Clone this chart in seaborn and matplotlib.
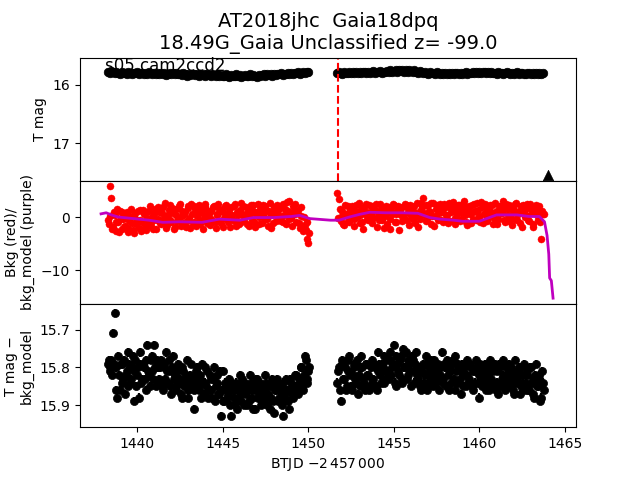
import numpy as np
import pandas as pd
import matplotlib
matplotlib.use("Agg")
import matplotlib.pyplot as plt
import seaborn as sns

# ---------------- data ----------------
# sample times (BTJD - 2457000), regular 0.1 d cadence in each orbit,
# with a second interleaved set offset by half a step
t_orbit1 = np.round(np.arange(1438.3, 1450.01, 0.1), 2)   # 118 samples
t_orbit2 = np.round(np.arange(1451.7, 1463.71, 0.1), 2)   # 121 samples
t_orbit1_b = np.round(t_orbit1 + 0.05, 3)
t_orbit2_b = np.round(t_orbit2 + 0.05, 3)

tmag_orbit1 = [
    15.77, 15.79, 15.76, 15.78, 15.80, 15.77, 15.79, 15.81, 15.78, 15.80,
    15.79, 15.81, 15.78, 15.80, 15.82, 15.79, 15.80, 15.78, 15.81, 15.79,
    15.80, 15.82, 15.79, 15.81, 15.78, 15.80, 15.82, 15.79, 15.81, 15.80,
    15.81, 15.79, 15.82, 15.80, 15.83, 15.81, 15.79, 15.82, 15.80, 15.81,
    15.80, 15.82, 15.81, 15.83, 15.80, 15.82, 15.84, 15.81, 15.83, 15.82,
    15.81, 15.83, 15.82, 15.84, 15.81, 15.83, 15.82, 15.85, 15.82, 15.83,
    15.84, 15.82, 15.83, 15.85, 15.82, 15.84, 15.83, 15.85, 15.84, 15.82,
    15.84, 15.86, 15.83, 15.85, 15.84, 15.82, 15.85, 15.83, 15.86, 15.84,
    15.83, 15.85, 15.84, 15.82, 15.85, 15.83, 15.84, 15.86, 15.83, 15.84,
    15.83, 15.82, 15.84, 15.82, 15.83, 15.81, 15.84, 15.82, 15.83, 15.81,
    15.82, 15.80, 15.83, 15.81, 15.82, 15.80, 15.81, 15.79, 15.82, 15.80,
    15.80, 15.78, 15.81, 15.79, 15.78, 15.80, 15.77, 15.78]
tmag_orbit2 = [
    15.80, 15.78, 15.79, 15.81, 15.78, 15.80, 15.79, 15.77, 15.80, 15.78,
    15.79, 15.77, 15.80, 15.78, 15.79, 15.77, 15.78, 15.80, 15.77, 15.79,
    15.78, 15.76, 15.79, 15.77, 15.78, 15.76, 15.79, 15.77, 15.78, 15.76,
    15.77, 15.75, 15.78, 15.76, 15.74, 15.77, 15.75, 15.76, 15.74, 15.77,
    15.75, 15.77, 15.74, 15.76, 15.78, 15.75, 15.77, 15.79, 15.76, 15.78,
    15.80, 15.77, 15.79, 15.81, 15.78, 15.80, 15.79, 15.81, 15.78, 15.80,
    15.81, 15.79, 15.82, 15.80, 15.81, 15.79, 15.82, 15.80, 15.81, 15.79,
    15.80, 15.82, 15.79, 15.81, 15.80, 15.78, 15.81, 15.79, 15.80, 15.78,
    15.79, 15.77, 15.80, 15.78, 15.79, 15.77, 15.78, 15.80, 15.77, 15.79,
    15.78, 15.80, 15.79, 15.81, 15.78, 15.80, 15.79, 15.81, 15.80, 15.78,
    15.80, 15.82, 15.79, 15.81, 15.80, 15.78, 15.81, 15.79, 15.80, 15.82,
    15.81, 15.79, 15.80, 15.82, 15.79, 15.81, 15.80, 15.82, 15.79, 15.81,
    15.80]

bkg_orbit1 = [
    -0.5, 5.8, 3.6, -1.8, 0.4, -2.6, -1.0, 1.2, -2.2, -0.4,
    -1.6, 1.0, -2.8, 0.2, -1.2, -3.0, 0.8, -0.6, -2.0, 1.4,
    -1.0, 0.5, -2.4, -0.2, 1.1, -1.6, -0.8, 0.6, -2.2, -0.3,
    0.9, -1.4, 1.8, -0.6, -2.1, 0.4, 2.2, -1.0, 0.7, -1.8,
    1.6, -0.4, 2.4, 0.2, -1.2, 1.0, -0.7, 2.0, -2.0, 0.6,
    -0.9, 1.5, 0.1, 2.3, -1.4, 0.8, -0.3, 1.9, -1.1, 0.5,
    1.2, -0.8, 2.1, -2.1, 0.3, 1.6, -1.2, 0.9, -0.2, 2.2,
    -1.0, 0.7, 1.8, -0.5, 2.4, -1.6, 0.4, 1.3, -0.9, 2.0,
    0.2, -1.3, 1.7, 0.6, -0.6, 2.3, -1.9, 1.0, 0.0, 1.5,
    -1.1, 0.8, 2.0, -0.4, 1.2, -2.0, 0.5, 1.9, -0.8, 0.9,
    1.6, -0.7, 2.5, 0.3, -1.4, 1.1, 3.1, -0.2, 2.0, 0.6,
    -0.9, 1.4, -2.0, 0.2, -2.6, -1.5, -4.2, -4.9]
bkg_orbit1_b = [
    -1.4, 0.2, -2.3, 1.0, -0.9, 1.6, -2.9, -0.2, 0.9, -1.9,
    0.4, -2.1, -0.7, 1.6, -2.5, 0.1, -1.3, 1.2, -0.5, -2.6,
    1.3, -1.8, 0.9, -0.9, 2.0, 0.0, -2.3, 1.5, -0.6, 1.9,
    -1.2, 0.7, -0.1, 2.6, -1.5, 1.3, -0.5, 1.7, -2.2, 0.3,
    -0.8, 2.1, -1.6, 1.2, 0.5, -1.8, 1.7, -0.2, 2.5, -1.1,
    2.0, -1.7, 0.7, -0.6, 1.4, -2.2, 2.4, 0.0, 1.1, -1.5,
    -0.3, 1.9, -1.0, 0.6, 2.5, -0.7, 1.4, -1.8, 2.0, 0.1,
    1.5, -1.9, 0.3, 2.1, -0.8, 1.0, -1.3, 2.6, 0.5, -0.4,
    1.9, 0.8, -1.6, 2.2, 1.1, -0.9, 0.6, 2.4, -1.4, 0.3,
    2.2, -0.3, 1.3, -1.7, 2.7, 0.4, -1.2, 1.0, 2.3, -0.5,
    0.2, 2.1, -1.0, 1.5, 2.8, -0.4, 0.7, -1.6, 1.2, 2.4,
    0.9, -1.2, 1.8, -1.6, 0.0, -2.4, -1.0, -3.0]
bkg_orbit2 = [
    4.5, 3.4, -0.8, 1.2, -1.5, 0.6, 2.0, -1.0, 0.3, 1.8,
    -0.4, 2.2, 0.8, -1.2, 1.5, -2.2, 0.5, 2.4, -0.6, 1.0,
    2.1, -0.2, 1.4, -1.9, 0.9, 2.5, -0.5, 1.7, 0.2, -1.4,
    1.8, -2.3, 0.6, 2.2, -0.9, 1.1, -2.4, 0.4, 1.9, -0.3,
    2.3, 0.8, -1.5, 1.6, -0.4, 2.0, 0.1, -1.8, 1.2, 2.6,
    3.6, 0.4, -0.8, 2.2, 1.0, -1.3, 2.7, 0.2, 1.5, -0.6,
    2.4, 0.9, -1.0, 1.8, 0.3, 2.6, -0.7, 1.2, 2.0, -1.4,
    0.6, 2.3, -0.3, 1.5, 3.0, -0.9, 0.8, 2.1, -1.2, 1.0,
    2.4, -0.5, 1.3, 0.0, 2.8, -1.1, 0.7, 1.9, -0.2, 2.2,
    0.5, -1.3, 2.6, 1.1, -0.4, 2.0, 0.8, 3.1, -0.9, 1.6,
    2.2, 0.1, -1.5, 1.4, 2.5, -0.6, 0.9, 2.0, -1.8, 1.2,
    0.4, 2.4, -0.8, 1.6, -1.9, 0.9, 2.3, -0.5, 1.1, -4.2,
    0.6]
bkg_orbit2_b = [
    -0.2, 1.6, 0.2, -1.3, 2.3, 0.5, -0.7, 1.4, 2.1, -1.6,
    1.1, 0.0, 2.6, 0.4, -0.9, 1.9, 1.0, -0.3, 2.2, 0.6,
    -1.1, 1.3, 2.4, 0.2, -0.6, 1.6, 0.8, -2.0, 2.0, 1.0,
    -0.4, 1.4, 2.5, -1.0, 0.6, 2.1, 1.2, -0.8, 0.3, 2.4,
    -0.6, 1.5, 2.2, 0.0, 1.0, -1.2, 2.6, 0.6, -0.3, 1.8,
    0.7, 2.3, -0.4, 1.1, 2.7, 0.2, -1.6, 1.5, 2.2, 0.8,
    -0.5, 1.6, 2.4, 0.4, -1.1, 1.9, 0.9, 2.8, -0.2, 1.3,
    2.2, -0.8, 1.0, 2.5, 0.3, -1.5, 1.7, 0.6, 2.3, -0.4,
    1.2, 2.6, 0.2, -1.0, 1.8, 0.5, 2.4, -0.7, 1.4, 0.9,
    2.3, -0.2, 1.0, -1.4, 2.1, 0.7, 1.6, -0.5, 2.5, 0.4,
    -0.8, 1.9, 1.1, -0.3, 2.6, 0.6, -1.2, 1.5, 2.2, 0.0,
    1.7, -0.6, 2.4, 0.8, -1.3, 1.6, 0.3, 2.0, -0.9, 1.2,
    0.5]

t_model = [1437.9, 1438.2, 1438.5, 1438.9, 1439.8, 1440.7, 1441.5, 1442.5,
           1443.8, 1444.8, 1446.0, 1446.8, 1448.0, 1449.0, 1449.5, 1450.1,
           1451.3, 1451.8, 1452.4, 1453.0, 1453.6, 1454.5, 1455.5, 1456.4,
           1457.1, 1457.7, 1458.5, 1459.0, 1460.0, 1460.5, 1461.0, 1462.2,
           1462.9, 1463.5, 1463.8, 1463.95, 1464.05, 1464.1, 1464.2, 1464.3]
bkg_model = [0.6, 0.8, 0.4, 0.0, -0.3, -0.6, -1.0, -0.9,
             -1.0, -0.4, -0.6, -0.1, -0.1, 0.1, 0.3, -0.3,
             -0.6, -0.6, 0.0, 0.5, 0.9, 0.8, 0.8, 0.7,
             -0.1, -0.4, -0.6, -0.8, -0.8, -0.2, 0.4, 0.4,
             0.1, 0.1, -0.9, -3.5, -7.0, -11.5, -12.0, -15.3]

diff_orbit1 = [
    15.79, 15.81, 15.78, 15.708, 15.655, 15.80, 15.77, 15.86, 15.79, 15.83,
    15.87, 15.81, 15.76, 15.84, 15.80, 15.89, 15.78, 15.82, 15.88, 15.79,
    15.83, 15.80, 15.86, 15.74, 15.82, 15.78, 15.81, 15.74, 15.85, 15.80,
    15.83, 15.78, 15.86, 15.80, 15.76, 15.84, 15.81, 15.87, 15.77, 15.82,
    15.85, 15.79, 15.83, 15.88, 15.81, 15.84, 15.78, 15.86, 15.82, 15.85,
    15.91, 15.83, 15.80, 15.86, 15.82, 15.79, 15.87, 15.84, 15.81, 15.86,
    15.83, 15.88, 15.80, 15.85, 15.82, 15.87, 15.93, 15.81, 15.89, 15.85,
    15.87, 15.83, 15.93, 15.86, 15.90, 15.84, 15.88, 15.82, 15.89, 15.86,
    15.84, 15.90, 15.86, 15.82, 15.88, 15.85, 15.91, 15.83, 15.87, 15.84,
    15.89, 15.86, 15.82, 15.90, 15.85, 15.88, 15.83, 15.92, 15.86, 15.84,
    15.88, 15.85, 15.93, 15.87, 15.83, 15.89, 15.86, 15.84, 15.88, 15.85,
    15.82, 15.87, 15.84, 15.80, 15.86, 15.77, 15.83, 15.81]
diff_orbit1_b = [
    15.78, 15.80, 15.82, 15.79, 15.86, 15.88, 15.82, 15.79, 15.84, 15.78,
    15.82, 15.85, 15.79, 15.83, 15.77, 15.81, 15.85, 15.80, 15.76, 15.84,
    15.79, 15.83, 15.78, 15.81, 15.85, 15.77, 15.83, 15.80, 15.78, 15.84,
    15.80, 15.85, 15.79, 15.83, 15.81, 15.78, 15.85, 15.80, 15.83, 15.86,
    15.81, 15.84, 15.87, 15.80, 15.85, 15.82, 15.88, 15.83, 15.79, 15.84,
    15.86, 15.81, 15.85, 15.83, 15.88, 15.84, 15.80, 15.85, 15.88, 15.82,
    15.86, 15.83, 15.89, 15.84, 15.87, 15.81, 15.86, 15.89, 15.84, 15.88,
    15.85, 15.90, 15.84, 15.88, 15.86, 15.91, 15.85, 15.87, 15.83, 15.90,
    15.87, 15.85, 15.89, 15.84, 15.91, 15.86, 15.83, 15.88, 15.85, 15.90,
    15.86, 15.88, 15.84, 15.87, 15.91, 15.85, 15.89, 15.86, 15.83, 15.89,
    15.86, 15.90, 15.84, 15.88, 15.86, 15.91, 15.83, 15.87, 15.85, 15.82,
    15.86, 15.83, 15.80, 15.85, 15.82, 15.78, 15.84, 15.80]
diff_orbit2 = [
    15.84, 15.80, 15.89, 15.78, 15.83, 15.86, 15.81, 15.77, 15.85, 15.82,
    15.79, 15.84, 15.87, 15.80, 15.77, 15.83, 15.86, 15.79, 15.82, 15.85,
    15.78, 15.83, 15.80, 15.86, 15.76, 15.82, 15.79, 15.84, 15.81, 15.78,
    15.83, 15.76, 15.80, 15.74, 15.85, 15.79, 15.82, 15.77, 15.84, 15.80,
    15.76, 15.82, 15.79, 15.85, 15.78, 15.81, 15.76, 15.83, 15.80, 15.86,
    15.79, 15.82, 15.77, 15.84, 15.81, 15.78, 15.85, 15.80, 15.83, 15.79,
    15.82, 15.76, 15.84, 15.80, 15.78, 15.86, 15.81, 15.79, 15.83, 15.77,
    15.84, 15.80, 15.87, 15.79, 15.82, 15.85, 15.78, 15.83, 15.80, 15.86,
    15.81, 15.78, 15.84, 15.88, 15.80, 15.83, 15.79, 15.86, 15.82, 15.78,
    15.85, 15.81, 15.79, 15.84, 15.87, 15.80, 15.83, 15.78, 15.86, 15.82,
    15.79, 15.84, 15.81, 15.87, 15.78, 15.83, 15.80, 15.85, 15.82, 15.79,
    15.84, 15.81, 15.86, 15.80, 15.83, 15.88, 15.79, 15.85, 15.82, 15.88,
    15.84]
diff_orbit2_b = [
    15.81, 15.86, 15.79, 15.83, 15.80, 15.85, 15.78, 15.82, 15.86, 15.80,
    15.83, 15.78, 15.82, 15.85, 15.80, 15.84, 15.79, 15.82, 15.86, 15.80,
    15.83, 15.79, 15.85, 15.81, 15.79, 15.84, 15.80, 15.77, 15.83, 15.81,
    15.78, 15.82, 15.79, 15.84, 15.77, 15.81, 15.78, 15.83, 15.75, 15.80,
    15.83, 15.78, 15.81, 15.77, 15.84, 15.79, 15.82, 15.80, 15.85, 15.81,
    15.84, 15.79, 15.86, 15.80, 15.83, 15.82, 15.78, 15.84, 15.81, 15.86,
    15.80, 15.83, 15.79, 15.85, 15.82, 15.80, 15.84, 15.78, 15.86, 15.81,
    15.79, 15.83, 15.81, 15.85, 15.80, 15.82, 15.84, 15.79, 15.85, 15.81,
    15.84, 15.80, 15.82, 15.79, 15.85, 15.81, 15.84, 15.80, 15.86, 15.83,
    15.80, 15.84, 15.86, 15.81, 15.79, 15.85, 15.82, 15.84, 15.80, 15.85,
    15.83, 15.80, 15.86, 15.82, 15.84, 15.81, 15.87, 15.80, 15.84, 15.86,
    15.82, 15.86, 15.80, 15.84, 15.87, 15.82, 15.85, 15.83, 15.89, 15.81,
    15.86]
diff_err = 0.011

discovery_time = 1451.74
limit_time = [1464.0]
limit_mag = [17.55]

title_text = "AT2018jhc  Gaia18dpq\n18.49G_Gaia Unclassified z= -99.0"
sector_text = "s05 cam2ccd2"

# ---------------- frames ----------------
df_top = pd.DataFrame({
    "t": np.concatenate([t_orbit1, t_orbit2]),
    "tmag": np.concatenate([tmag_orbit1, tmag_orbit2]),
})
df = pd.DataFrame({
    "t": np.concatenate([t_orbit1, t_orbit1_b, t_orbit2, t_orbit2_b]),
    "bkg": np.concatenate([bkg_orbit1, bkg_orbit1_b, bkg_orbit2, bkg_orbit2_b]),
    "diff": np.concatenate([diff_orbit1, diff_orbit1_b, diff_orbit2, diff_orbit2_b]),
})
df_model = pd.DataFrame({"t": t_model, "model": bkg_model})

# ---------------- plot ----------------
fig, axes = plt.subplots(3, 1, sharex=True, figsize=(6.4, 4.8), dpi=100)
fig.subplots_adjust(hspace=0, left=0.125, right=0.9, top=0.88, bottom=0.11)
ax1, ax2, ax3 = axes

# top: T mag
ax1.errorbar(df_top["t"], df_top["tmag"], yerr=0.01, fmt="none", ecolor="k", lw=1)
sns.scatterplot(data=df_top, x="t", y="tmag", ax=ax1, color="k", s=38,
                edgecolor="k", linewidth=0.5)
sns.scatterplot(x=limit_time, y=limit_mag, ax=ax1, color="k", marker="^",
                s=55, edgecolor="k", linewidth=0.5)
ax1.axvline(discovery_time, color="r", ls="--", lw=1.5)
ax1.set_ylim(17.65, 15.53)
ax1.set_yticks([16, 17])
ax1.set_ylabel("T mag")
ax1.set_title(title_text, fontsize=14)
ax1.text(0.05, 0.895, sector_text, transform=ax1.transAxes, fontsize=12)

# middle: background
sns.scatterplot(data=df, x="t", y="bkg", ax=ax2, color="r", s=26,
                edgecolor="r", linewidth=0.3)
sns.lineplot(data=df_model, x="t", y="model", ax=ax2, color="m", lw=2,
             estimator=None, sort=False)
ax2.set_ylim(-16.4, 6.83)
ax2.set_yticks([-10, 0])
ax2.set_ylabel("Bkg (red)/\nbkg_model (purple)")

# bottom: T mag - bkg_model
ax3.errorbar(df["t"], df["diff"], yerr=diff_err, fmt="none", ecolor="k", lw=1.6)
sns.scatterplot(data=df, x="t", y="diff", ax=ax3, color="k", s=34,
                edgecolor="k", linewidth=0.5)
ax3.set_ylim(15.959, 15.631)
ax3.set_yticks([15.7, 15.8, 15.9])
ax3.set_ylabel("T mag \u2212\nbkg_model")

ax3.set_xlim(1436.67, 1465.64)
ax3.set_xticks([1440, 1445, 1450, 1455, 1460, 1465])
ax3.set_xlabel(r"BTJD $-2\,457\,000$")
for ax in (ax1, ax2):
    ax.set_xlabel("")

fig.savefig("out.png", dpi=100)
